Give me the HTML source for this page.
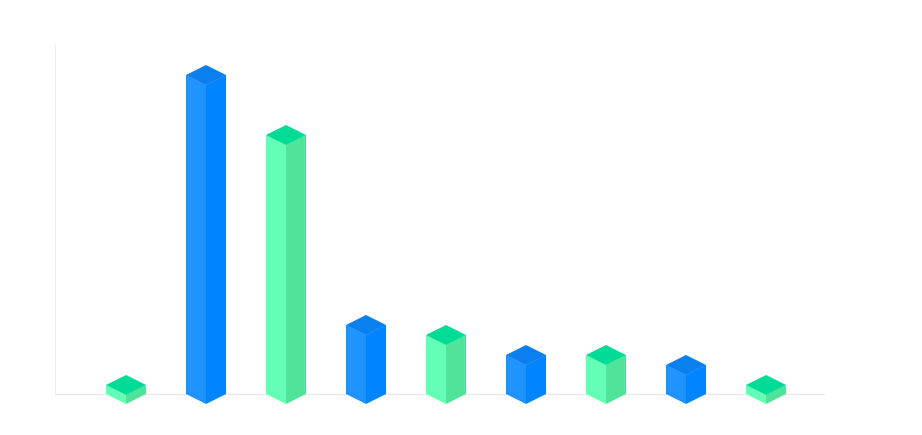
<!DOCTYPE html>
<html><head><meta charset="utf-8"><style>html,body{margin:0;padding:0;background:#fff}svg{display:block}</style></head>
<body>
<svg width="922" height="435" viewBox="0 0 922 435">
<line x1="55.5" y1="44" x2="55.5" y2="394" stroke="#eeeeee"/>
<line x1="55" y1="394.5" x2="825" y2="394.5" stroke="#e6e6e6"/>
<g id="bars"></g>
</svg>
<script>
const tops=[385,75,135,325,335,355,355,365,385];
const B={l:'#1f93ff',r:'#0084ff',t:'#0a7ff0'},G={l:'#62ffb5',r:'#50e49a',t:'#00dc96'};
let s='';
tops.forEach((t,i)=>{const c=126+80*i,k=i%2?B:G,b=394;
s+=`<polygon points="${c-20},${t} ${c},${t+10} ${c},${b+10} ${c-20},${b}" fill="${k.l}"/>`;
s+=`<polygon points="${c+20},${t} ${c},${t+10} ${c},${b+10} ${c+20},${b}" fill="${k.r}"/>`;
s+=`<polygon points="${c-20},${t} ${c},${t-10} ${c+20},${t} ${c},${t+10}" fill="${k.t}"/>`;});
document.getElementById('bars').innerHTML=s;
</script>
</body></html>
